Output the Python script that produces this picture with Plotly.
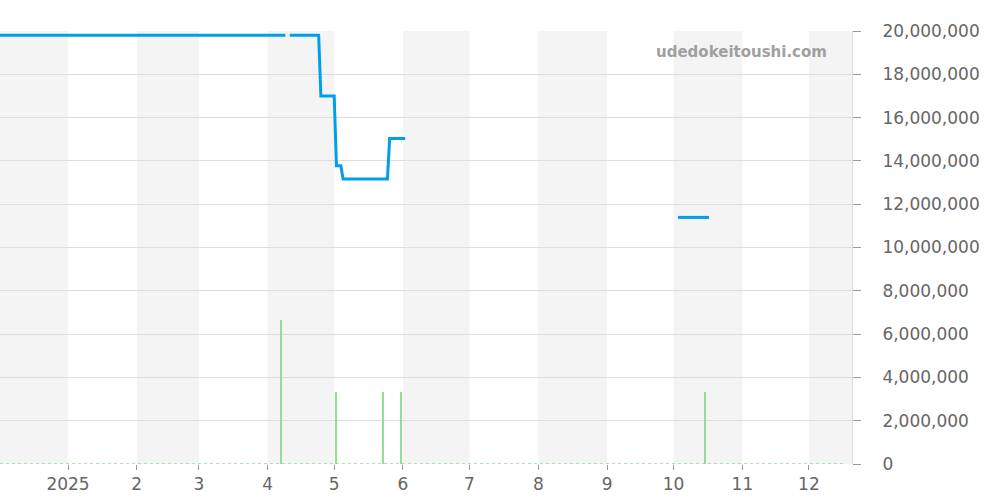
import plotly.graph_objects as go

# ---- data ----
price_dates = ["2024-11-30", "2025-04-09", "2025-04-10", "2025-04-11", "2025-04-24",
               "2025-04-25", "2025-05-01", "2025-05-02", "2025-05-04", "2025-05-05",
               "2025-05-25", "2025-05-26", "2025-06-02", "2025-06-03", "2025-10-03",
               "2025-10-17"]
price_values = [19800000, 19800000, None, 19800000, 19800000,
                17000000, 17000000, 13780000, 13780000, 13160000,
                13160000, 15030000, 15030000, None, 11390000,
                11390000]

volume_dates = ["2025-04-07", "2025-05-02", "2025-05-23", "2025-05-31", "2025-10-15"]
volume_values = [6650000, 3310000, 3310000, 3310000, 3310000]

tick_dates = ["2025-01-01", "2025-02-01", "2025-03-01", "2025-04-01", "2025-05-01",
              "2025-06-01", "2025-07-01", "2025-08-01", "2025-09-01", "2025-10-01",
              "2025-11-01", "2025-12-01"]
tick_labels = ["2025", "2", "3", "4", "5", "6", "7", "8", "9", "10", "11", "12"]

shaded_months = [("2024-12-01", "2025-01-01"), ("2025-02-01", "2025-03-01"),
                 ("2025-04-01", "2025-05-01"), ("2025-06-01", "2025-07-01"),
                 ("2025-08-01", "2025-09-01"), ("2025-10-01", "2025-11-01"),
                 ("2025-12-01", "2026-01-01")]

x_range = ["2024-12-01 08:20", "2025-12-20 10:00"]
y_range = [0, 20000000]

fig = go.Figure()

fig.add_trace(go.Bar(
    x=volume_dates, y=volume_values,
    width=[0.6 * 86400000] * len(volume_dates),
    marker=dict(color="#95dd95", line=dict(width=0)),
    showlegend=False,
))

fig.add_trace(go.Scatter(
    x=price_dates, y=price_values, mode="lines",
    line=dict(color="#00a0e9", width=3),
    connectgaps=False, showlegend=False,
))

shapes = []
for a, b in shaded_months:
    shapes.append(dict(type="rect", xref="x", yref="paper", x0=a, x1=b, y0=0, y1=1,
                       fillcolor="#f4f4f4", line=dict(width=0), layer="below"))
shapes.append(dict(type="line", xref="paper", yref="y", x0=0, x1=0.992, y0=0, y1=0,
                   line=dict(color="#9ad89a", width=1.5, dash="dot"), layer="above"))

fig.update_layout(
    width=1000, height=500,
    margin=dict(l=0, r=148, t=31, b=36, autoexpand=False),
    paper_bgcolor="white", plot_bgcolor="white",
    font=dict(family="DejaVu Sans", size=17, color="#666"),
    shapes=shapes,
    bargap=0,
    xaxis=dict(
        type="date", range=x_range, automargin=False,
        tickvals=tick_dates, ticktext=tick_labels,
        showgrid=False, zeroline=False,
        ticks="outside", ticklen=5, tickcolor="#999",
        showline=False,
        tickfont=dict(size=17, color="#666"),
    ),
    yaxis=dict(
        side="right", range=y_range, automargin=False,
        tickvals=list(range(0, 20000001, 2000000)),
        tickformat=",d",
        showgrid=True, gridcolor="#dddddd", gridwidth=1,
        zeroline=False,
        showline=True, linecolor="#dddddd",
        ticks="outside", ticklen=8, tickcolor="#999",
        ticklabelstandoff=18,
        tickfont=dict(size=17, color="#666"),
    ),
    annotations=[dict(
        text="<b>udedokeitoushi.com</b>", xref="paper", yref="paper",
        x=0.973, y=0.951, xanchor="right", yanchor="middle", showarrow=False,
        font=dict(family="DejaVu Sans", size=15, color="#a0a0a0"),
    )],
)

fig.write_html("out.html", config={"displayModeBar": False},
               post_script="document.body.style.margin='0';")
